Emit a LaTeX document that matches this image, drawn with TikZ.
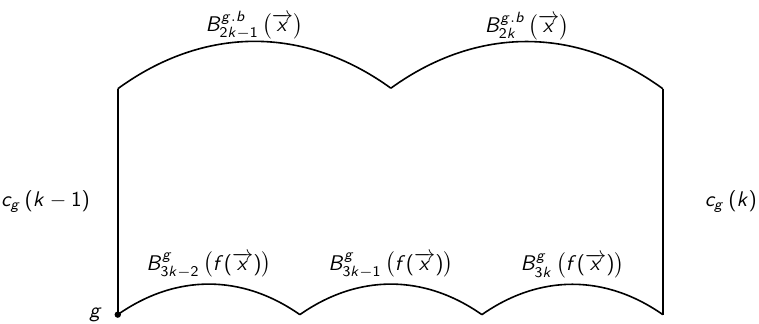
\documentclass[tikz,border=0pt]{standalone}
\usepackage{amsmath}
\usepackage{tikz}
\usetikzlibrary{positioning}
% sans serif math letters, as in slides
\DeclareSymbolFont{sfletters}{OT1}{cmss}{m}{sl}
\SetSymbolFont{operators}{normal}{OT1}{cmss}{m}{n}
\DeclareMathSymbol{B}{\mathalpha}{sfletters}{`B}
\DeclareMathSymbol{b}{\mathalpha}{sfletters}{`b}
\DeclareMathSymbol{c}{\mathalpha}{sfletters}{`c}
\DeclareMathSymbol{f}{\mathalpha}{sfletters}{`f}
\DeclareMathSymbol{g}{\mathalpha}{sfletters}{`g}
\DeclareMathSymbol{k}{\mathalpha}{sfletters}{`k}
\DeclareMathSymbol{x}{\mathalpha}{sfletters}{`x}
\tikzset{
  edgeline/.style={thick, black},
  arclabel/.style={midway, above=-1pt},
  sidelabel/.style={midway},
  every node/.append style={scale=1.06},
}

\begin{document}
\begin{tikzpicture}
      \useasboundingbox (0,0) rectangle (13.34,5.69);
      % Corners of the strip
      \coordinate (g) at (2.07,0.16);
      \coordinate (tl) at (2.07,4.13);
      \coordinate (tm) at (6.87,4.14);
      \coordinate (tr) at (11.65,4.13);
      \coordinate (br) at (11.65,0.16);
      \coordinate (b1) at (5.27,0.16);
      \coordinate (b2) at (8.47,0.16);
      % Sides
      \draw[edgeline] (g) -- (tl) node[sidelabel, left=10pt] {$c_g\left(k-1\right)$};
      \draw[edgeline] (tr) -- (br) node[sidelabel, right=17pt] {$c_g\left(k\right)$};
      % Top arcs
      \draw[edgeline] (tl) to[bend left=36] node[arclabel, above=-3pt] {$B^{g.b}_{2k-1}\left(\overrightarrow{x}\right)$} (tm);
      \draw[edgeline] (tm) to[bend left=36] node[arclabel, above=-3pt] {$B^{g.b}_{2k}\left(\overrightarrow{x}\right)$} (tr);
      % Bottom arcs
      \draw[edgeline] (g) to[bend left=35] node[arclabel] {$B^{g}_{3k-2}\left(f(\overrightarrow{x})\right)$} (b1);
      \draw[edgeline] (b1) to[bend left=35] node[arclabel] {$B^{g}_{3k-1}\left(f(\overrightarrow{x})\right)$} (b2);
      \draw[edgeline] (b2) to[bend left=35] node[arclabel] {$B^{g}_{3k}\left(f(\overrightarrow{x})\right)$} (br);
      % Start point
      \fill (g) circle (1.6pt);
      \node[left=4pt of g] (glabel) {$g$};
    \end{tikzpicture}
\end{document}
